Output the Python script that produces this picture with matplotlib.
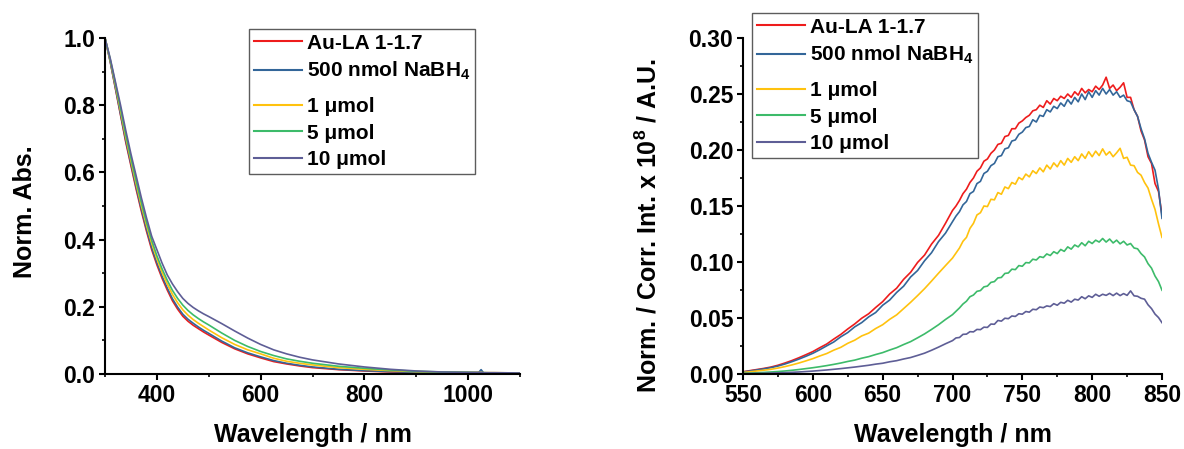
import numpy as np
import matplotlib
matplotlib.use("Agg")
import matplotlib.pyplot as plt
from matplotlib.ticker import MultipleLocator, FormatStrFormatter

plt.rcParams['font.family'] = ['Liberation Sans', 'DejaVu Sans']
plt.rcParams['font.weight'] = 'bold'
plt.rcParams['mathtext.fontset'] = 'custom'
plt.rcParams['mathtext.rm'] = 'Liberation Sans:bold'
plt.rcParams['mathtext.bf'] = 'Liberation Sans:bold'
plt.rcParams['mathtext.it'] = 'Liberation Sans:bold'
plt.rcParams['mathtext.default'] = 'rm'

# ---- series labels and colours ----
labels = ['Au-LA 1-1.7', r'500 nmol NaBH$_4$', '1 μmol', '5 μmol', '10 μmol']
colors = ['#ee1c1c', '#336699', '#ffc20e', '#3dbb6a', '#5e5e96']

# ---- absorbance spectra (normalised) ----
abs_wl = [300, 310, 320, 330, 340, 350, 360, 370, 380, 390, 400, 410, 420, 430, 440,
          450, 460, 470, 480, 490, 500, 525, 550, 575, 600, 625, 650, 675, 700,
          750, 800, 850, 900, 950, 1000, 1020, 1025, 1030, 1050, 1100]

abs_aula = [1.00, 0.93, 0.85, 0.77, 0.69, 0.62, 0.55, 0.485, 0.425, 0.37, 0.325, 0.285,
            0.25, 0.218, 0.193, 0.172, 0.157, 0.145, 0.135, 0.125, 0.116,
            0.094, 0.075, 0.060, 0.048, 0.037, 0.030, 0.024, 0.019,
            0.013, 0.009, 0.006, 0.004, 0.003, 0.002, 0.002, 0.002, 0.002, 0.0015, 0.001]
abs_500n = [1.00, 0.93, 0.852, 0.773, 0.695, 0.625, 0.556, 0.491, 0.431, 0.376, 0.331, 0.291,
            0.256, 0.224, 0.199, 0.178, 0.163, 0.151, 0.140, 0.130, 0.121,
            0.098, 0.078, 0.063, 0.051, 0.040, 0.032, 0.026, 0.021,
            0.014, 0.010, 0.007, 0.005, 0.004, 0.004, 0.004, 0.013, 0.003, 0.003, 0.002]
abs_1u = [1.00, 0.935, 0.86, 0.783, 0.705, 0.635, 0.567, 0.502, 0.443, 0.389, 0.343, 0.303,
          0.268, 0.237, 0.212, 0.191, 0.175, 0.162, 0.151, 0.141, 0.131,
          0.108, 0.088, 0.072, 0.060, 0.047, 0.038, 0.032, 0.027,
          0.019, 0.014, 0.010, 0.007, 0.006, 0.005, 0.005, 0.005, 0.004, 0.004, 0.003]
abs_5u = [1.00, 0.937, 0.865, 0.79, 0.713, 0.643, 0.576, 0.511, 0.452, 0.398, 0.352, 0.313,
          0.279, 0.249, 0.225, 0.205, 0.189, 0.176, 0.165, 0.155, 0.146,
          0.122, 0.100, 0.082, 0.067, 0.055, 0.045, 0.038, 0.032,
          0.023, 0.017, 0.012, 0.008, 0.006, 0.005, 0.004, 0.004, 0.004, 0.003, 0.002]
abs_10u = [1.00, 0.94, 0.87, 0.80, 0.725, 0.655, 0.59, 0.525, 0.465, 0.41, 0.37, 0.33,
           0.295, 0.268, 0.245, 0.225, 0.21, 0.198, 0.188, 0.179, 0.171,
           0.150, 0.128, 0.107, 0.088, 0.072, 0.060, 0.050, 0.042,
           0.030, 0.021, 0.014, 0.009, 0.006, 0.005, 0.005, 0.005, 0.004, 0.004, 0.003]

# ---- emission spectra (corrected intensity) ----
pl_wl = np.concatenate([np.arange(550, 700, 5.0), np.arange(700, 850.1, 2.5)])

pl_aula = [0.0020, 0.0030, 0.0040, 0.0050, 0.0062, 0.0078, 0.0098, 0.0120, 0.0145, 0.0172,
           0.0200, 0.0235, 0.0268, 0.0312, 0.0353, 0.0402, 0.0447, 0.0498, 0.0538, 0.0594,
           0.0646, 0.0714, 0.0766, 0.0845, 0.0908, 0.0996, 0.1062, 0.1160, 0.1238, 0.1346,
           0.146, 0.150, 0.155, 0.161, 0.165, 0.171, 0.175, 0.181, 0.184, 0.190,
           0.192, 0.197, 0.200, 0.205, 0.206, 0.212, 0.213, 0.219, 0.219, 0.224,
           0.226, 0.229, 0.231, 0.235, 0.236, 0.240, 0.238, 0.244, 0.241, 0.246,
           0.244, 0.248, 0.246, 0.250, 0.247, 0.252, 0.249, 0.255, 0.251, 0.254,
           0.252, 0.257, 0.254, 0.258, 0.265, 0.255, 0.258, 0.253, 0.256, 0.260,
           0.247, 0.247, 0.236, 0.230, 0.217, 0.209, 0.194, 0.188, 0.170, 0.163,
           0.142]
pl_500n = [0.0018, 0.0027, 0.0036, 0.0046, 0.0057, 0.0071, 0.0089, 0.0110, 0.0133, 0.0158,
           0.0185, 0.0217, 0.0252, 0.0286, 0.0332, 0.0370, 0.0421, 0.0459, 0.0510, 0.0549,
           0.0614, 0.0660, 0.0728, 0.0784, 0.0866, 0.0924, 0.1011, 0.1083, 0.1182, 0.1258,
           0.136, 0.141, 0.145, 0.151, 0.154, 0.161, 0.163, 0.170, 0.172, 0.179,
           0.181, 0.186, 0.188, 0.194, 0.195, 0.201, 0.202, 0.208, 0.209, 0.214,
           0.216, 0.220, 0.221, 0.227, 0.225, 0.231, 0.230, 0.236, 0.234, 0.239,
           0.237, 0.242, 0.239, 0.245, 0.241, 0.247, 0.243, 0.250, 0.245, 0.252,
           0.247, 0.253, 0.249, 0.255, 0.250, 0.254, 0.249, 0.252, 0.247, 0.249,
           0.244, 0.243, 0.236, 0.230, 0.219, 0.210, 0.197, 0.189, 0.182, 0.165,
           0.139]
pl_1u = [0.0013, 0.0020, 0.0027, 0.0034, 0.0042, 0.0053, 0.0066, 0.0081, 0.0098, 0.0117,
         0.0137, 0.0161, 0.0183, 0.0213, 0.0238, 0.0274, 0.0302, 0.0340, 0.0365, 0.0406,
         0.0440, 0.0488, 0.0528, 0.0584, 0.0640, 0.0700, 0.0762, 0.0830, 0.0900, 0.0968,
         0.1035, 0.1080, 0.1125, 0.1185, 0.1220, 0.1300, 0.1345, 0.1420, 0.1440, 0.1500,
         0.1495, 0.1560, 0.1555, 0.1620, 0.1605, 0.1670, 0.1655, 0.1710, 0.1695, 0.1755,
         0.1735, 0.1785, 0.1760, 0.1815, 0.1790, 0.1840, 0.1805, 0.1865, 0.1830, 0.1885,
         0.1850, 0.1905, 0.1865, 0.1925, 0.1890, 0.1940, 0.1905, 0.1965, 0.1925, 0.1985,
         0.1940, 0.1990, 0.1950, 0.2010, 0.1955, 0.1985, 0.1940, 0.1975, 0.2015, 0.1925,
         0.1935, 0.1865, 0.1860, 0.1800, 0.1775, 0.1710, 0.1660, 0.1560, 0.1470, 0.1340,
         0.1220]
pl_5u = [0.0006, 0.0008, 0.0011, 0.0014, 0.0018, 0.0022, 0.0027, 0.0033, 0.0040, 0.0048,
         0.0056, 0.0065, 0.0075, 0.0086, 0.0098, 0.0112, 0.0124, 0.0141, 0.0155, 0.0174,
         0.0191, 0.0214, 0.0235, 0.0263, 0.0289, 0.0323, 0.0358, 0.0398, 0.0440, 0.0487,
         0.0530, 0.0560, 0.0590, 0.0625, 0.0650, 0.0690, 0.0705, 0.0738, 0.0745, 0.0778,
         0.0785, 0.0818, 0.0825, 0.0858, 0.0862, 0.0898, 0.0902, 0.0936, 0.0932, 0.0968,
         0.0962, 0.0995, 0.0992, 0.1025, 0.1018, 0.1048, 0.1040, 0.1072, 0.1058, 0.1092,
         0.1075, 0.1112, 0.1095, 0.1135, 0.1115, 0.1152, 0.1135, 0.1172, 0.1145, 0.1185,
         0.1165, 0.1195, 0.1178, 0.1210, 0.1178, 0.1205, 0.1170, 0.1195, 0.1162, 0.1185,
         0.1152, 0.1165, 0.1125, 0.1118, 0.1075, 0.1045, 0.0985, 0.0945, 0.0875, 0.0825,
         0.0748]
pl_10u = [0.0003, 0.0004, 0.0005, 0.0006, 0.0008, 0.0010, 0.0012, 0.0015, 0.0018, 0.0022,
          0.0026, 0.0031, 0.0036, 0.0042, 0.0048, 0.0055, 0.0062, 0.0070, 0.0078, 0.0088,
          0.0096, 0.0109, 0.0119, 0.0134, 0.0147, 0.0166, 0.0186, 0.0212, 0.0240, 0.0270,
          0.0298, 0.0322, 0.0326, 0.0354, 0.0356, 0.0378, 0.0376, 0.0398, 0.0396, 0.0418,
          0.0416, 0.0446, 0.0444, 0.0478, 0.0472, 0.0498, 0.0494, 0.0518, 0.0514, 0.0538,
          0.0534, 0.0558, 0.0552, 0.0578, 0.0574, 0.0598, 0.0592, 0.0608, 0.0602, 0.0628,
          0.0614, 0.0640, 0.0632, 0.0658, 0.0642, 0.0668, 0.0660, 0.0690, 0.0672, 0.0698,
          0.0684, 0.0712, 0.0694, 0.0712, 0.0702, 0.0720, 0.0700, 0.0722, 0.0700, 0.0718,
          0.0702, 0.0742, 0.0698, 0.0694, 0.0676, 0.0668, 0.0618, 0.0584, 0.0535, 0.0504,
          0.0458]

abs_series = [abs_aula, abs_500n, abs_1u, abs_5u, abs_10u]
pl_series = [pl_aula, pl_500n, pl_1u, pl_5u, pl_10u]

W, H = 1184, 449
fig = plt.figure(figsize=(W / 100, H / 100), dpi=100)
ax1 = fig.add_axes([105 / W, 1 - 374 / H, 415 / W, 336 / H])
ax2 = fig.add_axes([743 / W, 1 - 374 / H, 419 / W, 336 / H])

for y, c, lab in zip(abs_series, colors, labels):
    ax1.plot(abs_wl, y, color=c, lw=1.2, label=lab)
for y, c, lab in zip(pl_series, colors, labels):
    ax2.plot(pl_wl, y, color=c, lw=1.2, label=lab)

ax1.set_xlim(300, 1100)
ax1.set_ylim(0, 1.0)
ax1.xaxis.set_major_locator(MultipleLocator(200))
ax1.xaxis.set_minor_locator(MultipleLocator(100))
ax1.yaxis.set_major_locator(MultipleLocator(0.2))
ax1.yaxis.set_minor_locator(MultipleLocator(0.1))
ax1.yaxis.set_major_formatter(FormatStrFormatter('%.1f'))

ax2.set_xlim(550, 850)
ax2.set_ylim(0, 0.30)
ax2.xaxis.set_major_locator(MultipleLocator(50))
ax2.xaxis.set_minor_locator(MultipleLocator(25))
ax2.yaxis.set_major_locator(MultipleLocator(0.05))
ax2.yaxis.set_minor_locator(MultipleLocator(0.025))
ax2.yaxis.set_major_formatter(FormatStrFormatter('%.2f'))

for ax in (ax1, ax2):
    for s in ('top', 'right'):
        ax.spines[s].set_visible(False)
    for s in ('left', 'bottom'):
        ax.spines[s].set_linewidth(1.5)
    ax.tick_params(which='major', direction='out', length=4, width=1.5,
                   labelsize=16.5, pad=3)
    ax.tick_params(which='minor', direction='out', length=2.5, width=1.2)
    for t in ax.get_xticklabels() + ax.get_yticklabels():
        t.set_fontweight('bold')
    ax.set_xlabel('Wavelength / nm', fontsize=18, fontweight='bold')
    ax.xaxis.set_label_coords(0.5, -0.145)

ax1.set_ylabel('Norm. Abs.', fontsize=18, fontweight='bold')
ax1.yaxis.set_label_coords(-0.165, 0.482)
ax2.set_ylabel(r'Norm. / Corr. Int. x 10$^8$ / A.U.', fontsize=18, fontweight='bold')
ax2.yaxis.set_label_coords(-0.195, 0.443)

leg_kw = dict(loc='upper left', frameon=True, fancybox=False,
              edgecolor='#333333', borderaxespad=0, borderpad=0.22,
              labelspacing=0.36, handlelength=2.3, handletextpad=0.25,
              prop={'weight': 'bold', 'size': 15})
l1 = ax1.legend(bbox_to_anchor=(249 / W, 1 - 29 / H), bbox_transform=fig.transFigure, **leg_kw)
l2 = ax2.legend(bbox_to_anchor=(752 / W, 1 - 13 / H), bbox_transform=fig.transFigure, **leg_kw)
for lg in (l1, l2):
    lg.get_frame().set_linewidth(1.0)
    for ln in lg.get_lines():
        ln.set_linewidth(1.5)
    # the NaBH4 row sits a little taller because of its subscript
    rows = lg._legend_handle_box.get_children()[0].get_children()
    handle_area = rows[1].get_children()[0]
    handle_area.ydescent += 9

fig.savefig('out.png', dpi=100)
